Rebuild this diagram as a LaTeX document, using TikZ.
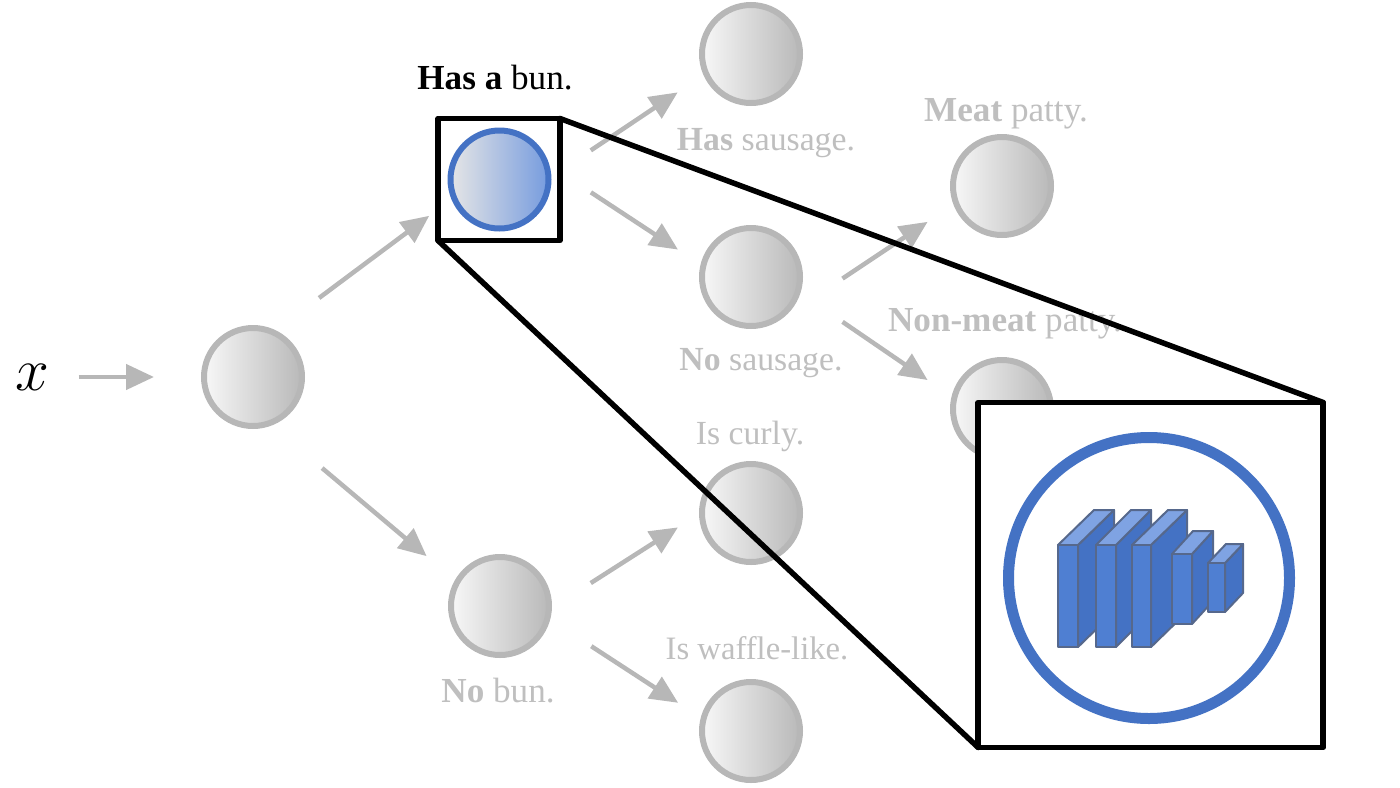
\documentclass[tikz,border=0pt]{standalone}
\usepackage{fontspec}
\setmainfont{Liberation Serif}
\usetikzlibrary{arrows.meta}

\definecolor{fadegray}{HTML}{B7B7B7}
\definecolor{fadetext}{HTML}{BFBFBF}
\definecolor{netblue}{HTML}{4472C4}
\definecolor{netfront}{HTML}{4F7FD2}
\definecolor{nettop}{HTML}{7FA3E3}
\definecolor{netedge}{HTML}{56688C}

\begin{document}
\begin{tikzpicture}[font = \fontsize{10}{12}\selectfont,
                    unit/.style = {circle, draw = fadegray, line width = 0.06cm, minimum size = 0.98cm,
                                   left color = gray!6, middle color = gray!28, right color = gray!55},
                    active/.style = {circle, draw = netblue, line width = 0.06cm, minimum size = 0.98cm,
                                     left color = gray!20, middle color = netblue!45!white, right color = nettop!85!netblue},
                    flow/.style = {draw = fadegray, line width = 0.045cm, -{Triangle[length = 0.28cm, width = 0.25cm]}},
                    faded/.style = {text = fadetext},
                    zoomline/.style = {line width = 0.055cm, line join = round, line cap = round},
                    zoomframe/.style = {rectangle, draw = black, zoomline, outer sep = 0pt},
                    netface/.style = {draw = netedge, line width = 0.02cm, line join = round}]
  \useasboundingbox (0, 0) rectangle (14, 7.87);

  \node [inner sep = 0pt, font = \fontsize{18}{20}\selectfont] (input) at (0.32, 4.10) {$x$};

  \node [unit] (root) at (2.53, 4.10) {};
  \node [unit] (nobun) at (5.00, 1.81) {};
  \node [unit] (sausage) at (7.51, 7.33) {};
  \node [unit] (nosausage) at (7.51, 5.10) {};
  \node [unit] (curly) at (7.51, 2.74) {};
  \node [unit] (waffle) at (7.51, 0.56) {};
  \node [unit] (meat) at (10.02, 6.01) {};
  \node [unit] (nonmeat) at (10.02, 3.78) {};

  \node [zoomframe, minimum size = 1.22cm] (zoombox) at (4.99, 6.075) {};
  \node [active] (hasbun) at (4.995, 6.075) {};

  \node (hasbunlabel) at (4.95, 7.09) {\textbf{Has a} bun.};
  \node [faded, font = \fontsize{9.6}{12}\selectfont] (sausagelabel) at (7.66, 6.44) {\textbf{Has} sausage.};
  \node [faded, font = \fontsize{9.6}{12}\selectfont] (nosausagelabel) at (7.61, 4.24) {\textbf{No} sausage.};
  \node [faded] (meatlabel) at (10.06, 6.73) {\textbf{Meat} patty.};
  \node [faded] (nonmeatlabel) at (10.05, 4.63) {\textbf{Non-meat} patty.};
  \node [faded, font = \fontsize{9.6}{12}\selectfont] (curlylabel) at (7.50, 3.51) {Is curly.};
  \node [faded, font = \fontsize{9.3}{12}\selectfont] (wafflelabel) at (7.57, 1.39) {Is waffle-like.};
  \node [faded] (nobunlabel) at (4.98, 0.96) {\textbf{No} bun.};

  \draw [flow, shorten <= 0.29cm, shorten >= 0.47cm] (input) -- (root);
  \draw [flow, shorten <= 0.54cm, shorten >= 0.11cm] (root.64) -- (zoombox.206);
  \draw [flow, shorten <= 0.66cm, shorten >= 0.37cm] (root.-69) -- (nobun.150);
  \draw [flow, shorten <= 0.37cm, shorten >= 0.31cm] (zoombox.8) -- (sausage.204);
  \draw [flow, shorten <= 0.37cm, shorten >= 0.27cm] (zoombox.7) -- (nosausage.166);
  \draw [flow, shorten <= 0.75cm, shorten >= 0.31cm] (nosausage.-56) -- (meat.201);
  \draw [flow, shorten <= 0.51cm, shorten >= 0.29cm] (nosausage.-18) -- (nonmeat.166);
  \draw [flow, shorten <= 0.46cm, shorten >= 0.25cm] (nobun.-2) -- (curly.181);
  \draw [flow, shorten <= 0.49cm, shorten >= 0.27cm] (nobun.-15) -- (waffle.165);

  \node [zoomframe, fill = white, minimum size = 3.45cm] (zoomview) at (11.507, 2.12) {};
  \draw [zoomline] (zoombox.north east) -- (zoomview.north east);
  \draw [zoomline] (zoombox.south west) -- (zoomview.south west);

  \node [circle, draw = netblue, line width = 0.11cm, minimum size = 2.81cm] (bigunit) at (11.49, 2.09) {};

  % front left, front right, bottom, top, depth x, depth y
  \foreach \xa/\xb/\ya/\yb/\dx/\dy in {10.58/10.78/1.40/2.42/0.36/0.35,
                                       10.96/11.16/1.40/2.42/0.35/0.35,
                                       11.32/11.51/1.40/2.42/0.36/0.35,
                                       11.72/11.92/1.63/2.33/0.21/0.23,
                                       12.08/12.25/1.75/2.24/0.18/0.19}
  {
    \draw [netface, fill = netblue]
      (\xb, \ya) -- ++(\dx, \dy) -- (\xb + \dx, \yb + \dy) -- (\xb, \yb) -- cycle;
    \draw [netface, fill = nettop]
      (\xa, \yb) -- ++(\dx, \dy) -- (\xb + \dx, \yb + \dy) -- (\xb, \yb) -- cycle;
    \draw [netface, fill = netfront]
      (\xa, \ya) rectangle (\xb, \yb);
  }
\end{tikzpicture}
\end{document}
